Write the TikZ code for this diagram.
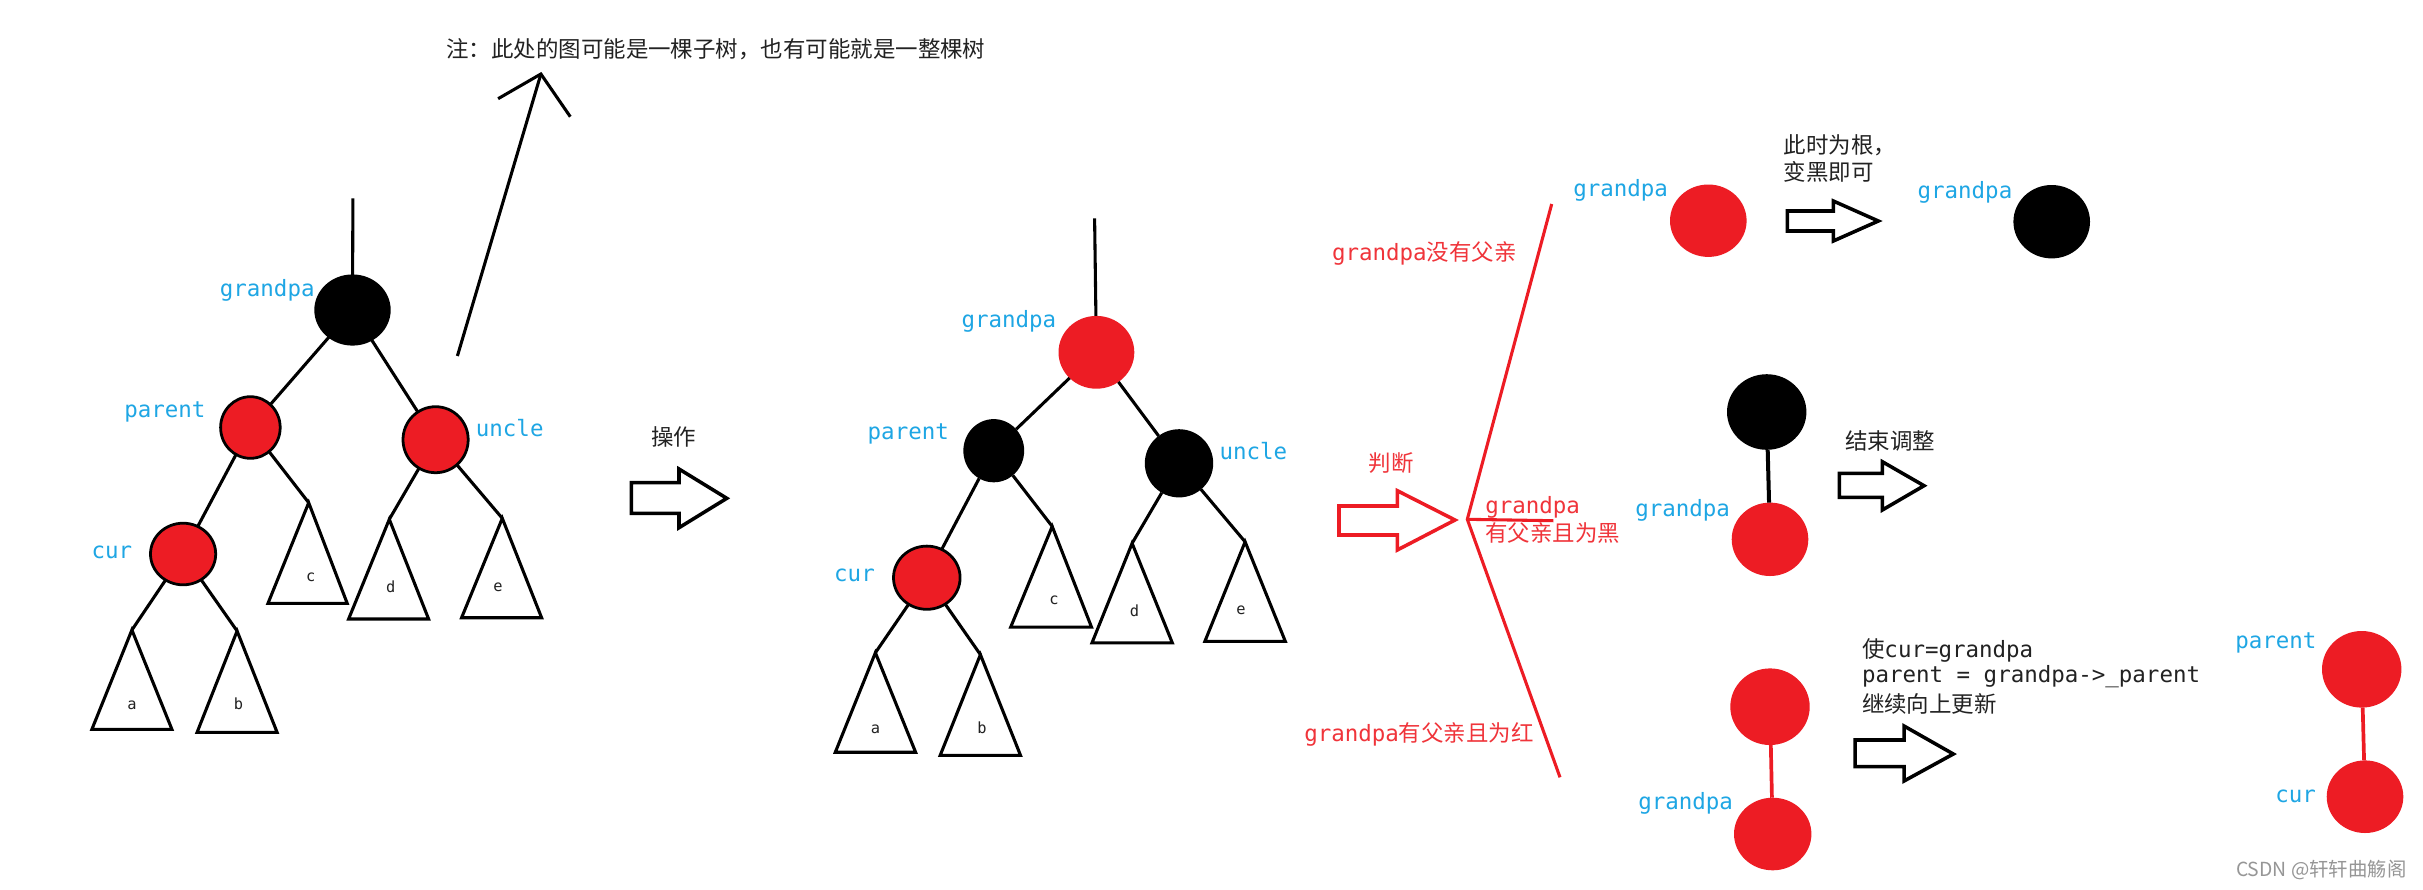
\documentclass[tikz,border=0pt]{standalone}
\usepackage{fontspec}
\setmainfont{Noto Sans CJK SC}
\setmonofont{DejaVu Sans Mono}
\usetikzlibrary{shapes.geometric}
\definecolor{rbred}{RGB}{237,28,36}
\definecolor{lblue}{RGB}{30,166,228}
\definecolor{tred}{RGB}{240,52,58}
\definecolor{ink}{RGB}{34,34,34}
\definecolor{wm}{RGB}{150,150,150}
\tikzset{
  lbl/.style={anchor=west, inner sep=0pt, text=lblue, font=\fontsize{14.6pt}{17pt}\ttfamily},
  rtxt/.style={anchor=west, inner sep=0pt, text=tred, font=\fontsize{14.6pt}{17pt}\selectfont},
  btxt/.style={anchor=west, inner sep=0pt, text=ink, font=\fontsize{14.6pt}{17pt}\selectfont},
  leaf/.style={inner sep=0pt, text=ink, font=\fontsize{10pt}{12pt}\ttfamily},
  sz/.style 2 args={minimum width={0.65pt*#1}, minimum height={0.65pt*#2}},
  redo/.style={ellipse, fill=rbred, draw=black, line width=1.8pt, inner sep=0pt, outer sep=0pt},
  redf/.style={ellipse, fill=rbred, inner sep=0pt, outer sep=0pt},
  blko/.style={ellipse, fill=black, draw=black, line width=1.8pt, inner sep=0pt, outer sep=0pt},
  blkf/.style={ellipse, fill=black, inner sep=0pt, outer sep=0pt},
  edge/.style={line width=2pt, draw=black},
  tri/.style={line width=2pt, draw=black, line join=miter},
  harrow/.style={line width=2.3pt, draw=black, fill=white, line join=miter},
  rline/.style={line width=2pt, draw=rbred},
}
\begin{document}
\begin{tikzpicture}[x=0.65pt,y=-0.65pt]
\fill[white] (0,0) rectangle (2423,889);
\path[use as bounding box] (0,0) rectangle (2423,889);

% ---------- note ----------
\node[btxt] (note) at (446,49.3) {注：此处的图可能是一棵子树，也有可能就是一整棵树};
\coordinate (n-tail) at (457.4,356);
\coordinate (n-tip) at (540.9,74);
\coordinate (n-w1) at (498.1,98.7);
\coordinate (n-w2) at (570.3,116.7);
\draw[edge] (n-tail) -- (n-tip);
\draw[edge] (n-w1) -- (n-tip) -- (n-w2);

% ---------- left tree ----------
\coordinate (L-top) at (352.9,198.3);
\coordinate (L-ca) at (308.7,502.7);
\coordinate (L-da) at (389.3,519.3);
\coordinate (L-ea) at (502.3,518.3);
\coordinate (L-aa) at (131.9,630);
\coordinate (L-ba) at (237.1,631);
\draw[tri] (L-ca) -- (268,603.3) -- (347.2,603.3) -- cycle;
\draw[tri] (L-da) -- (348.6,619) -- (428.6,619) -- cycle;
\draw[tri] (L-ea) -- (461.6,617.7) -- (541.6,617.7) -- cycle;
\draw[tri] (L-aa) -- (91.9,729.3) -- (171.9,729.3) -- cycle;
\draw[tri] (L-ba) -- (197.1,732.3) -- (277.1,732.3) -- cycle;
\node[leaf] (L-c) at (310.8,577.3) {c};
\node[leaf] (L-d) at (390.7,586.7) {d};
\node[leaf] (L-e) at (498,587.3) {e};
\node[leaf] (L-a) at (131.9,705) {a};
\node[leaf] (L-b) at (238.5,704) {b};

\node[blko, sz={73.6}{68.4}] (L-gp) at (352.5,310) {};
\node[redo, sz={59.6}{61.6}] (L-par) at (250.4,427.5) {};
\node[redo, sz={65.2}{66}] (L-unc) at (435.6,439.7) {};
\node[redo, sz={65.2}{61.6}] (L-cur) at (183.1,554) {};

\draw[edge] (L-top) -- (L-gp);
\draw[edge] (L-gp) -- (L-par);
\draw[edge] (L-gp) -- (L-unc);
\draw[edge] (L-par) -- (L-cur);
\draw[edge] (L-par) -- (L-ca);
\draw[edge] (L-unc) -- (L-da);
\draw[edge] (L-unc) -- (L-ea);
\draw[edge] (L-cur) -- (L-aa);
\draw[edge] (L-cur) -- (L-ba);

\node[lbl] (L-gpl) at (219.6,290) {grandpa};
\node[lbl] (L-parl) at (124,411.7) {parent};
\node[lbl] (L-uncl) at (475.6,427.7) {uncle};
\node[lbl] (L-curl) at (91.2,552.3) {cur};

% ---------- operation arrow ----------
\node[btxt] (op) at (651,437.3) {操作};
\draw[harrow] (631.4,482.7) -- (679,482.7) -- (679,469) -- (726.8,498.3) -- (679,527.7) -- (679,513.3) -- (631.4,513.3) -- cycle;

% ---------- middle tree ----------
\coordinate (M-top) at (1094.6,218.4);
\coordinate (M-ca) at (1052.2,526.4);
\coordinate (M-da) at (1132.1,543.3);
\coordinate (M-ea) at (1245.1,541.8);
\coordinate (M-aa) at (875.4,652.7);
\coordinate (M-ba) at (980.4,654.6);
\draw[tri] (M-ca) -- (1010.7,627.1) -- (1091.5,627.1) -- cycle;
\draw[tri] (M-da) -- (1092,642.8) -- (1172.3,642.8) -- cycle;
\draw[tri] (M-ea) -- (1204.9,641.3) -- (1285.3,641.3) -- cycle;
\draw[tri] (M-aa) -- (835.3,752.2) -- (915.6,752.2) -- cycle;
\draw[tri] (M-ba) -- (940.2,755.3) -- (1020.5,755.3) -- cycle;
\node[leaf] (M-c) at (1054,600.7) {c};
\node[leaf] (M-d) at (1134.4,610.3) {d};
\node[leaf] (M-e) at (1241,610.3) {e};
\node[leaf] (M-a) at (875.4,728.9) {a};
\node[leaf] (M-b) at (982.1,728.1) {b};

\node[redf, sz={75.8}{72.8}] (M-gp) at (1096.4,352.3) {};
\node[blkf, sz={60.8}{63.2}] (M-par) at (993.75,450.7) {};
\node[blkf, sz={68.4}{68.2}] (M-unc) at (1179,463.3) {};
\node[redo, sz={66.6}{63.2}] (M-cur) at (926.8,577.7) {};

\draw[edge] (M-top) -- (M-gp);
\draw[edge] (M-gp) -- (M-par);
\draw[edge] (M-gp) -- (M-unc);
\draw[edge] (M-par) -- (M-cur);
\draw[edge] (M-par) -- (M-ca);
\draw[edge] (M-unc) -- (M-da);
\draw[edge] (M-unc) -- (M-ea);
\draw[edge] (M-cur) -- (M-aa);
\draw[edge] (M-cur) -- (M-ba);

\node[lbl] (M-gpl) at (961.2,321.7) {grandpa};
\node[lbl] (M-parl) at (867.4,434.2) {parent};
\node[lbl] (M-uncl) at (1219.2,450.7) {uncle};
\node[lbl] (M-curl) at (833.9,575) {cur};

% ---------- judge arrow and branches ----------
\node[rtxt] (judge) at (1368.3,462.7) {判断};
\draw[line width=2.3pt, draw=rbred, fill=white, line join=miter] (1339,506) -- (1397.3,506) -- (1397.3,490.7) -- (1455,520) -- (1397.3,550) -- (1397.3,535) -- (1339,535) -- cycle;
\coordinate (br-o) at (1467.3,519.3);
\coordinate (br-up) at (1551.7,204);
\coordinate (br-mid) at (1553.3,520.7);
\coordinate (br-low) at (1560,777.3);
\draw[rline] (br-up) -- (br-o) -- (br-low);
\draw[rline] (br-o) -- (br-mid);

\node[rtxt] (t-nopar) at (1331.7,253) {{\ttfamily grandpa}没有父亲};
\node[rtxt] (t-blk1) at (1485,507.3) {\ttfamily grandpa};
\node[rtxt] (t-blk2) at (1485,533.3) {有父亲且为黑};
\node[rtxt] (t-red) at (1304,734) {{\ttfamily grandpa}有父亲且为红};

% ---------- case 1 ----------
\node[redf, sz={76.6}{72.4}] (c1-a) at (1708.3,220.7) {};
\node[lbl] (c1-al) at (1573,190) {grandpa};
\node[btxt] (c1-t1) at (1783.3,145) {此时为根，};
\node[btxt] (c1-t2) at (1783.3,171.7) {变黑即可};
\draw[harrow] (1787.3,211) -- (1833.3,211) -- (1833.3,201) -- (1878.3,221) -- (1833.3,241) -- (1833.3,231) -- (1787.3,231) -- cycle;
\node[blkf, sz={76.6}{73.4}] (c1-b) at (2051.7,221.7) {};
\node[lbl] (c1-bl) at (1917.3,192.3) {grandpa};

% ---------- case 2 ----------
\node[blkf, sz={79.4}{75.6}] (c2-p) at (1766.7,412) {};
\node[redf, sz={76.6}{73.4}] (c2-g) at (1770,539.3) {};
\draw[line width=2.6pt] (c2-p) -- (c2-g);
\node[lbl] (c2-gl) at (1635,510) {grandpa};
\node[btxt] (c2-t) at (1845,441) {结束调整};
\draw[harrow] (1839.3,473.3) -- (1882.3,473.3) -- (1882.3,461.7) -- (1924,485.7) -- (1882.3,510) -- (1882.3,497.3) -- (1839.3,497.3) -- cycle;

% ---------- case 3 ----------
\node[redf, sz={79.4}{76.6}] (c3-p) at (1770,706.7) {};
\node[redf, sz={77.4}{72.6}] (c3-g) at (1772.7,834) {};
\draw[line width=2.4pt, draw=rbred] (c3-p) -- (c3-g);
\node[lbl] (c3-gl) at (1638,803.3) {grandpa};
\node[btxt] (c3-t1) at (1861.7,650) {使{\ttfamily cur=grandpa}};
\node[btxt] (c3-t2) at (1861.7,677) {\ttfamily parent = grandpa->\_parent};
\node[btxt] (c3-t3) at (1861.7,704) {继续向上更新};
\draw[harrow] (1855,740) -- (1904,740) -- (1904,726) -- (1953.3,754) -- (1904,781) -- (1904,766.7) -- (1855,766.7) -- cycle;

\node[redf, sz={79.4}{76.6}] (c4-p) at (2361.7,669.3) {};
\node[redf, sz={76.6}{72.6}] (c4-c) at (2365,796.7) {};
\draw[line width=2.4pt, draw=rbred] (c4-p) -- (c4-c);
\node[lbl] (c4-pl) at (2235,642.7) {parent};
\node[lbl] (c4-cl) at (2275,796) {cur};

% ---------- watermark ----------
\node[anchor=east, inner sep=0pt, text=wm, font=\fontsize{12.6pt}{15pt}\selectfont] (wmark) at (2406.7,870) {CSDN @轩轩曲觞阁};
\end{tikzpicture}
\end{document}
